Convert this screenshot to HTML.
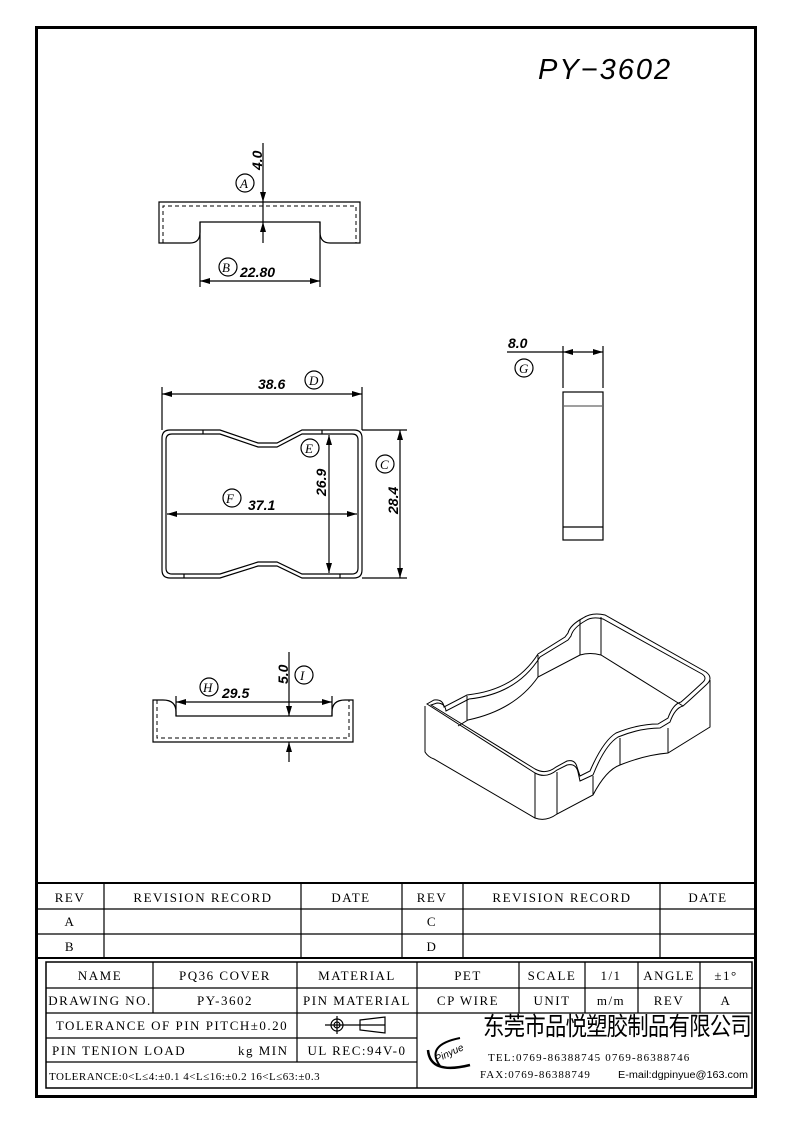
<!DOCTYPE html>
<html><head><meta charset="utf-8"><style>
html,body{margin:0;padding:0;background:#fff}
svg{display:block}
text{font-family:"Liberation Sans",sans-serif;fill:#000}
.t{font-family:"Liberation Serif",serif;font-size:13px;letter-spacing:1.5px}
.d{font-size:14px;font-style:italic;font-weight:bold}
.c{font-family:"Liberation Serif",serif;font-style:italic;font-size:13px}
</style></head><body>
<svg width="793" height="1123" viewBox="0 0 793 1123" xmlns="http://www.w3.org/2000/svg">
<defs>
<marker id="a" viewBox="0 0 10 6" refX="10" refY="3" markerWidth="9" markerHeight="5" orient="auto-start-reverse"><path d="M0,0 L10,3 L0,6 z" fill="#000"/></marker>
</defs>
<rect x="36.5" y="27.5" width="719" height="1069" fill="none" stroke="#000" stroke-width="3"/>
<text x="538" y="79" style="font-size:29px;font-style:italic;letter-spacing:2px">PY−3602</text>

<g fill="none" stroke="#000" stroke-width="1.2">
<path d="M159,202 H360 V243 H330 Q320,243 320,232 V222 H200 V232 Q200,243 190,243 H159 Z"/>
<path d="M163,243 V206 H356 V243" stroke-dasharray="4,3" stroke-width="1"/>
<line x1="263" y1="143" x2="263" y2="202" marker-end="url(#a)"/>
<line x1="263" y1="243" x2="263" y2="222" marker-end="url(#a)"/>
<line x1="263" y1="202" x2="263" y2="222"/>
<line x1="200" y1="222" x2="200" y2="287"/><line x1="320" y1="222" x2="320" y2="287"/>
<line x1="200" y1="281" x2="320" y2="281" marker-start="url(#a)" marker-end="url(#a)"/>
<circle cx="245" cy="183" r="9"/><circle cx="228" cy="267" r="9"/>

<path d="M170,430 H220 L258,443 H277 L302,430 H354 Q362,430 362,438 V570 Q362,578 354,578 H302 L277,566 H258 L220,578 H170 Q162,578 162,570 V438 Q162,430 170,430 Z"/>
<path d="M172,434 H220 L258,447 H277 L302,434 H352 Q358,434 358,440 V568 Q358,574 352,574 H302 L277,562 H258 L220,574 H172 Q166,574 166,568 V440 Q166,434 172,434 Z"/>
<line x1="203" y1="430" x2="203" y2="434"/><line x1="322" y1="430" x2="322" y2="434"/>
<line x1="184" y1="574" x2="184" y2="578"/><line x1="340" y1="574" x2="340" y2="578"/>
<line x1="162" y1="387" x2="162" y2="430"/><line x1="362" y1="387" x2="362" y2="430"/>
<line x1="162" y1="394" x2="362" y2="394" marker-start="url(#a)" marker-end="url(#a)"/>
<line x1="362" y1="430" x2="407" y2="430"/><line x1="362" y1="578" x2="407" y2="578"/>
<line x1="400" y1="430" x2="400" y2="578" marker-start="url(#a)" marker-end="url(#a)"/>
<line x1="329" y1="435" x2="329" y2="573" marker-start="url(#a)" marker-end="url(#a)"/>
<line x1="167" y1="514" x2="357" y2="514" marker-start="url(#a)" marker-end="url(#a)"/>
<circle cx="314" cy="380" r="9"/><circle cx="385" cy="464" r="9"/><circle cx="310" cy="448" r="9"/><circle cx="232" cy="498" r="9"/>

<rect x="563" y="392" width="40" height="148"/>
<line x1="563" y1="406" x2="603" y2="406" stroke="#666"/><line x1="563" y1="527" x2="603" y2="527"/>
<line x1="563" y1="346" x2="563" y2="388"/><line x1="603" y1="346" x2="603" y2="388"/>
<line x1="507" y1="352" x2="563" y2="352"/>
<line x1="563" y1="352" x2="603" y2="352" marker-start="url(#a)" marker-end="url(#a)"/>
<circle cx="524" cy="368" r="9"/>

<path d="M153,700 H163 Q176,700 176,712 V716 H332 V712 Q332,700 345,700 H353 V742 H153 Z"/>
<path d="M157,700 V738 H349 V700" stroke-dasharray="4,3" stroke-width="1"/>
<line x1="176" y1="696" x2="176" y2="716"/><line x1="332" y1="696" x2="332" y2="716"/>
<line x1="176" y1="702" x2="332" y2="702" marker-start="url(#a)" marker-end="url(#a)"/>
<line x1="289" y1="652" x2="289" y2="716" marker-end="url(#a)"/>
<line x1="289" y1="762" x2="289" y2="742" marker-end="url(#a)"/>
<circle cx="304" cy="675" r="9"/><circle cx="209" cy="687" r="9"/>

<g stroke-width="1">
<path d="M427,704 L535,773 Q546,779 557,770 L567,765 Q576,763 578,772 L580,781 L593,775 Q605,745 618,737 Q640,728 660,728 L670,722 Q675,708 683,706 Q690,700 706,685 Q714,678 706,672 L605,615 Q592,612 583,618 Q570,625 568,633 L565,637 L538,654 Q515,690 467,695 L444,707 Q443,699 434,700 Z"/>
<path d="M431,705 L535,769 Q546,775 556,767 L567,761 Q575,759 577,767 L580,776 L590,771 Q603,741 616,733 Q638,724 658,724 L668,718 Q673,704 681,702 Q688,696 702,683 Q708,678 702,674 L603,619 Q592,616 585,621 Q573,628 571,636 L568,640 L540,657 Q517,694 469,699 L446,711 Q445,703 437,703 Z"/>
<path d="M425,706 V752 Q428,757 434,759 L535,818 Q546,822 557,814 L593,795 Q606,770 620,765 Q645,755 668,753 L710,727 V680"/>
<line x1="535" y1="773" x2="535" y2="818"/><line x1="557" y1="772" x2="557" y2="814"/>
<line x1="593" y1="776" x2="593" y2="795"/><line x1="668" y1="728" x2="668" y2="753"/>
<line x1="620" y1="738" x2="620" y2="765"/>
<line x1="467" y1="696" x2="467" y2="720"/><line x1="538" y1="655" x2="538" y2="677"/>
<line x1="580" y1="620" x2="580" y2="655"/><line x1="601" y1="617" x2="601" y2="655"/>
<path d="M458,726 L468,720 Q515,710 538,677 L580,655 Q590,652 601,655 L683,706"/>
</g>
</g>

<text class="d" transform="translate(262,170) rotate(-90)">4.0</text>
<text class="c" x="240" y="188">A</text>
<text class="c" x="222" y="272">B</text>
<text class="d" x="240" y="277">22.80</text>
<text class="d" x="258" y="389">38.6</text>
<text class="c" x="309" y="385">D</text>
<text class="c" x="380" y="469">C</text>
<text class="d" transform="translate(398,514) rotate(-90)">28.4</text>
<text class="c" x="305" y="453">E</text>
<text class="d" transform="translate(326,496) rotate(-90)">26.9</text>
<text class="c" x="226" y="503">F</text>
<text class="d" x="248" y="510">37.1</text>
<text class="d" x="508" y="348">8.0</text>
<text class="c" x="519" y="373">G</text>
<text class="d" transform="translate(288,684) rotate(-90)">5.0</text>
<text class="c" x="300" y="680">I</text>
<text class="c" x="203" y="692">H</text>
<text class="d" x="222" y="698">29.5</text>

<g stroke="#000" stroke-width="1.2" fill="none">
<line x1="36" y1="883" x2="756" y2="883" stroke-width="2"/>
<line x1="36" y1="909" x2="756" y2="909"/>
<line x1="36" y1="934" x2="756" y2="934"/>
<line x1="36" y1="958" x2="756" y2="958" stroke-width="2"/>
<line x1="104" y1="883" x2="104" y2="958"/><line x1="301" y1="883" x2="301" y2="958"/>
<line x1="402" y1="883" x2="402" y2="958"/><line x1="463" y1="883" x2="463" y2="958"/>
<line x1="660" y1="883" x2="660" y2="958"/>
<rect x="46" y="962" width="706" height="126" stroke-width="1.5"/>
<line x1="46" y1="988" x2="752" y2="988"/><line x1="46" y1="1013" x2="752" y2="1013"/>
<line x1="46" y1="1038" x2="417" y2="1038"/><line x1="46" y1="1062" x2="417" y2="1062"/>
<line x1="153" y1="962" x2="153" y2="1013"/><line x1="297" y1="962" x2="297" y2="1062"/>
<line x1="417" y1="962" x2="417" y2="1088"/><line x1="519" y1="962" x2="519" y2="1013"/>
<line x1="585" y1="962" x2="585" y2="1013"/><line x1="638" y1="962" x2="638" y2="1013"/>
<line x1="700" y1="962" x2="700" y2="1013"/>
<circle cx="337" cy="1025" r="6"/><circle cx="337" cy="1025" r="3"/>
<line x1="325" y1="1025" x2="385" y2="1025"/><line x1="337" y1="1016" x2="337" y2="1034"/>
<path d="M360,1020 L385,1017 V1033 L360,1030 Z"/>
<path d="M440,1066 Q425,1045 460,1038" stroke-width="2"/>
<path d="M428,1050 Q430,1075 470,1065" stroke-width="2.5"/>
</g>
<g class="t" text-anchor="middle">
<text class="t" x="70" y="902">REV</text><text class="t" x="203" y="902">REVISION RECORD</text>
<text class="t" x="351" y="902">DATE</text><text class="t" x="432" y="902">REV</text>
<text class="t" x="562" y="902">REVISION RECORD</text><text class="t" x="708" y="902">DATE</text>
<text class="t" x="70" y="926">A</text><text class="t" x="432" y="926">C</text>
<text class="t" x="70" y="951">B</text><text class="t" x="432" y="951">D</text>
<text class="t" x="100" y="980">NAME</text><text class="t" x="225" y="980">PQ36 COVER</text>
<text class="t" x="357" y="980">MATERIAL</text><text class="t" x="468" y="980">PET</text>
<text class="t" x="552" y="980">SCALE</text><text class="t" x="611" y="980">1/1</text>
<text class="t" x="669" y="980">ANGLE</text><text class="t" x="726" y="980">±1°</text>
<text class="t" x="100" y="1005">DRAWING NO.</text><text class="t" x="225" y="1005">PY-3602</text>
<text class="t" x="357" y="1005">PIN MATERIAL</text><text class="t" x="468" y="1005">CP WIRE</text>
<text class="t" x="552" y="1005">UNIT</text><text class="t" x="611" y="1005">m/m</text>
<text class="t" x="669" y="1005">REV</text><text class="t" x="726" y="1005">A</text>
<text class="t" x="172" y="1030">TOLERANCE OF PIN PITCH±0.20</text>
<text class="t" x="357" y="1055">UL REC:94V-0</text>
</g>
<text class="t" x="52" y="1055">PIN TENION LOAD</text>
<text class="t" x="238" y="1055">kg MIN</text>
<text class="t" x="49" y="1080" style="font-size:11px;letter-spacing:0.5px">TOLERANCE:0&lt;L≤4:±0.1  4&lt;L≤16:±0.2  16&lt;L≤63:±0.3</text>
<text x="433" y="1058" transform="rotate(-25 445 1052)" style="font-size:10px;font-style:italic">Pinyue</text>
<text x="483" y="1035" style="font-family:'Liberation Sans','Noto Sans CJK SC',sans-serif;font-size:25px;letter-spacing:-1px" textLength="268" lengthAdjust="spacingAndGlyphs">东莞市品悦塑胶制品有限公司</text>
<text class="t" x="488" y="1061" style="font-size:11px;letter-spacing:1.2px">TEL:0769-86388745   0769-86388746</text>
<text class="t" x="480" y="1078" style="font-size:11px;letter-spacing:1px">FAX:0769-86388749</text>
<text x="618" y="1078" style="font-size:10px" textLength="130" lengthAdjust="spacingAndGlyphs">E-mail:dgpinyue@163.com</text>
</svg>
</body></html>
